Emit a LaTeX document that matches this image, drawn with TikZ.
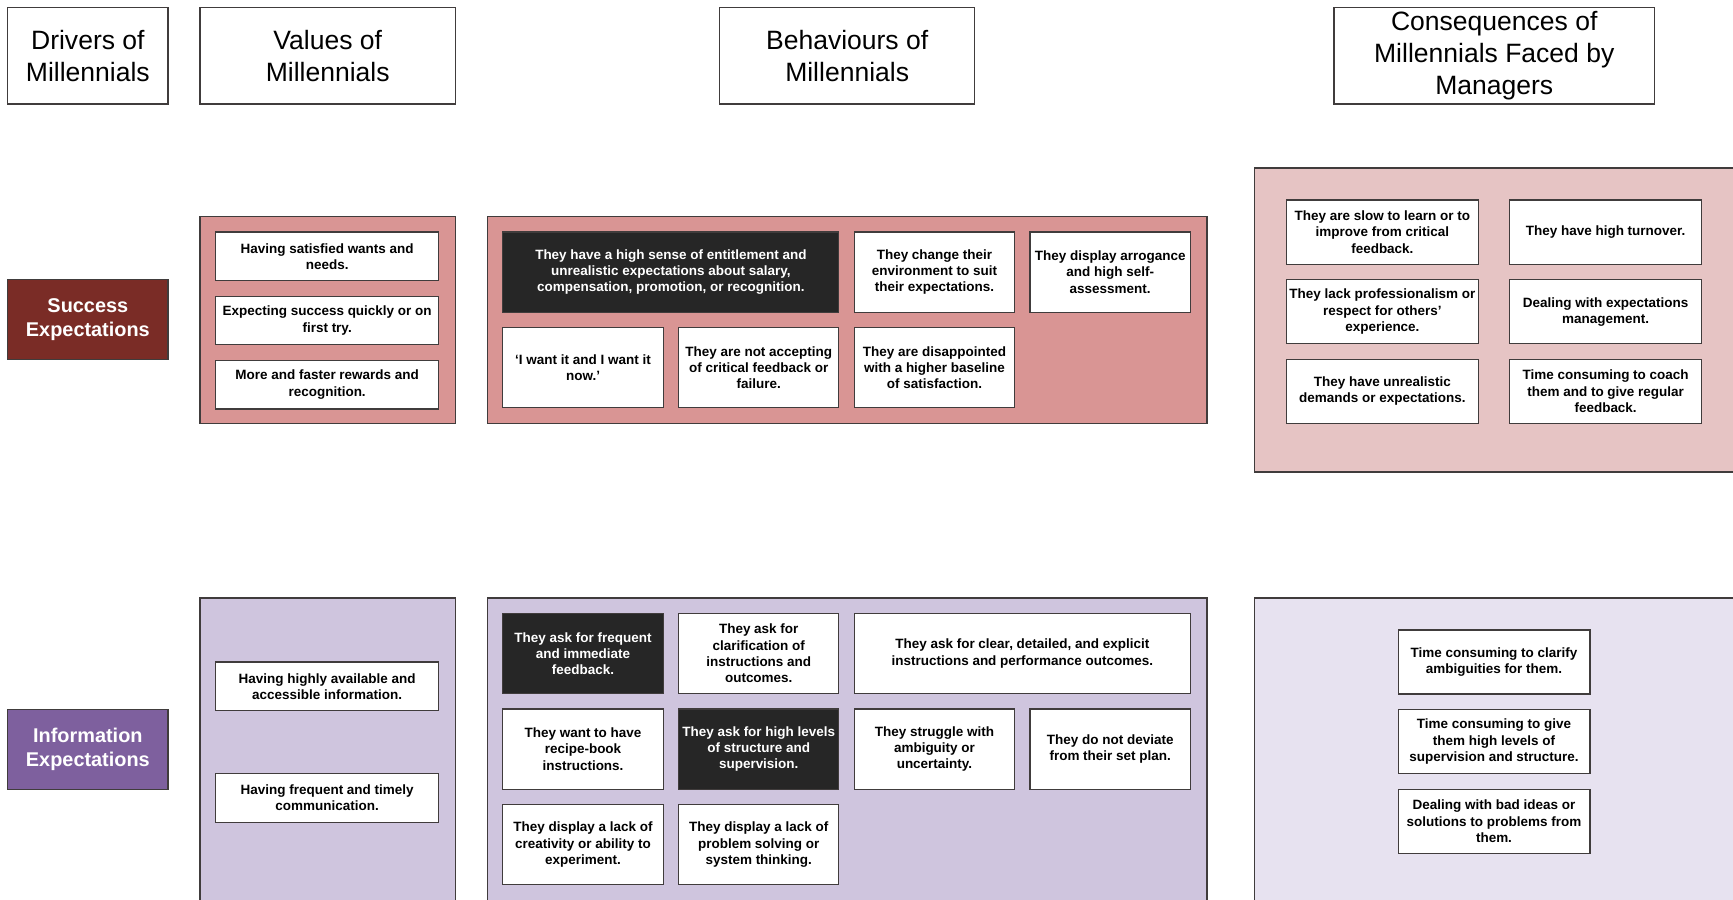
\documentclass[tikz,border=0pt]{standalone}
\usepackage{fontspec}
\setmainfont{Liberation Sans}
\usepackage{tikz}
\usetikzlibrary{positioning}

\definecolor{succred}{RGB}{122,44,38}
\definecolor{infopurple}{RGB}{126,96,158}
\definecolor{succpanel}{RGB}{217,149,148}
\definecolor{succlight}{RGB}{230,196,196}
\definecolor{infopanel}{RGB}{207,197,222}
\definecolor{infolight}{RGB}{231,226,240}
\definecolor{edge}{RGB}{64,60,60}
\definecolor{darkfill}{RGB}{38,38,38}

\begin{document}
\begin{tikzpicture}[x=1pt, y=-1pt,
    every node/.style = {shape=rectangle, draw=edge, line width=1.1pt,
      align=center, inner sep=0pt, outer sep=0pt},
    header/.style = {fill=white, minimum width=145pt, minimum height=87pt,
      anchor=north west, font=\fontsize{24}{29}\selectfont},
    driver/.style = {minimum width=145pt, minimum height=72pt, anchor=north west,
      text=white, font=\bfseries\fontsize{18}{22}\selectfont},
    panel/.style = {anchor=north west},
    item/.style = {fill=white, font=\bfseries\fontsize{12.2}{14.7}\selectfont},
    dark/.style = {item, fill=darkfill, text=white},
    wide/.style = {minimum width=202pt, minimum height=44pt},
    cell/.style = {minimum width=145pt, minimum height=72.5pt},
    long/.style = {minimum width=304pt, minimum height=72.5pt},
    cons/.style = {minimum width=173.5pt, minimum height=58pt},
    node distance=14pt]
  \useasboundingbox (0,0) rectangle (1568,814);
  \clip (0,0) rectangle (1568,814);

  % column headers
  \node[header] (hdriv) at (7,7) {Drivers of\\Millennials};
  \node[header, minimum width=231pt] (hval) at (181,7) {Values of\\Millennials};
  \node[header, minimum width=231pt] (hbeh) at (651,7) {Behaviours of\\Millennials};
  \node[header, minimum width=290pt] (hcons) at (1207,7)
    {Consequences of\\Millennials Faced by\\Managers};

  % success expectations
  \node[driver, fill=succred] (succ) at (7,253) {Success\\Expectations};
  \node[panel, fill=succpanel, minimum width=231pt, minimum height=187pt] (sval) at (181,196) {};
  \node[panel, fill=succpanel, minimum width=651pt, minimum height=187pt] (sbeh) at (441,196) {};
  \node[panel, fill=succlight, minimum width=460pt, minimum height=275pt] (scons) at (1135,152) {};

  \node[item, wide, anchor=north west] (sv1) at ([xshift=14pt,yshift=-14pt]sval.north west)
    {Having satisfied wants and\\needs.};
  \node[item, wide, below=of sv1] (sv2) {Expecting success quickly or on\\first try.};
  \node[item, wide, below=of sv2] (sv3) {More and faster rewards and\\recognition.};

  \node[dark, long, anchor=north west] (sb1) at ([xshift=14pt,yshift=-14pt]sbeh.north west)
    {They have a high sense of entitlement and\\unrealistic expectations about salary,\\compensation, promotion, or recognition.};
  \node[item, cell, right=of sb1] (sb2) {They change their\\environment to suit\\their expectations.};
  \node[item, cell, right=of sb2] (sb3) {They display arrogance\\and high self-\\assessment.};
  \node[item, cell, below=of sb1.south west, anchor=north west] (sb4) {‘I want it and I want it\\now.’};
  \node[item, cell, right=of sb4] (sb5) {They are not accepting\\of critical feedback or\\failure.};
  \node[item, cell, right=of sb5] (sb6) {They are disappointed\\with a higher baseline\\of satisfaction.};

  \node[item, cons, anchor=north west] (sc1) at ([xshift=29pt,yshift=-29pt]scons.north west)
    {They are slow to learn or to\\improve from critical\\feedback.};
  \node[item, cons, right=28.5pt of sc1] (sc2) {They have high turnover.};
  \node[item, cons, below=of sc1] (sc3) {They lack professionalism or\\respect for others’\\experience.};
  \node[item, cons, below=of sc2] (sc4) {Dealing with expectations\\management.};
  \node[item, cons, below=of sc3] (sc5) {They have unrealistic\\demands or expectations.};
  \node[item, cons, below=of sc4] (sc6) {Time consuming to coach\\them and to give regular\\feedback.};

  % information expectations
  \node[driver, fill=infopurple] (info) at (7,642) {Information\\Expectations};
  \node[panel, fill=infopanel, minimum width=231pt, minimum height=300pt] (ival) at (181,541) {};
  \node[panel, fill=infopanel, minimum width=651pt, minimum height=300pt] (ibeh) at (441,541) {};
  \node[panel, fill=infolight, minimum width=460pt, minimum height=300pt] (icons) at (1135,541) {};

  \node[item, wide, anchor=north west] (iv1) at ([xshift=14pt,yshift=-58pt]ival.north west)
    {Having highly available and\\accessible information.};
  \node[item, wide, below=57pt of iv1] (iv2) {Having frequent and timely\\communication.};

  \node[dark, cell, anchor=north west] (ib1) at ([xshift=14pt,yshift=-14pt]ibeh.north west)
    {They ask for frequent\\and immediate\\feedback.};
  \node[item, cell, right=of ib1] (ib2) {They ask for\\clarification of\\instructions and\\outcomes.};
  \node[item, long, right=of ib2] (ib3) {They ask for clear, detailed, and explicit\\instructions and performance outcomes.};
  \node[item, cell, below=of ib1] (ib4) {They want to have\\recipe-book\\instructions.};
  \node[dark, cell, right=of ib4] (ib5) {They ask for high levels\\of structure and\\supervision.};
  \node[item, cell, right=of ib5] (ib6) {They struggle with\\ambiguity or\\uncertainty.};
  \node[item, cell, right=of ib6] (ib7) {They do not deviate\\from their set plan.};
  \node[item, cell, below=of ib4] (ib8) {They display a lack of\\creativity or ability to\\experiment.};
  \node[item, cell, right=of ib8] (ib9) {They display a lack of\\problem solving or\\system thinking.};

  \node[item, cons, anchor=north west] (ic1) at ([xshift=130pt,yshift=-29pt]icons.north west)
    {Time consuming to clarify\\ambiguities for them.};
  \node[item, cons, below=of ic1] (ic2) {Time consuming to give\\them high levels of\\supervision and structure.};
  \node[item, cons, below=of ic2] (ic3) {Dealing with bad ideas or\\solutions to problems from\\them.};
\end{tikzpicture}
\end{document}
